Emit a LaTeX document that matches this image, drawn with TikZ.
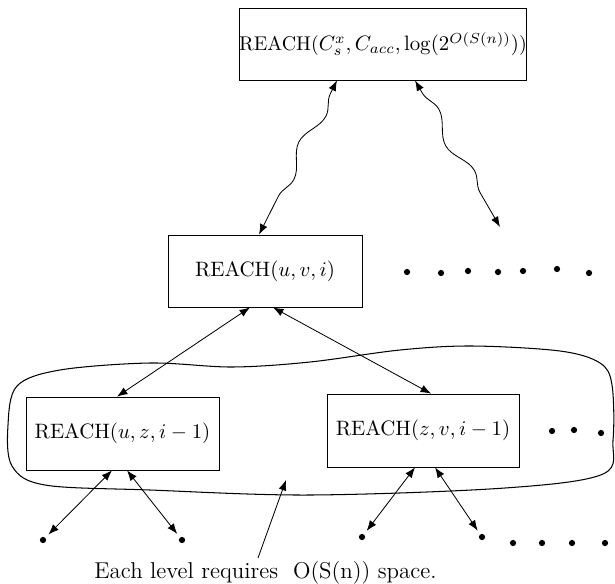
\documentclass[tikz,border=0pt]{standalone}
\usetikzlibrary{arrows.meta,decorations.pathmorphing,calc}
\begin{document}
\begin{tikzpicture}[x=0.48pt,y=-0.48pt,
  box/.style={draw, rectangle, inner sep=0pt},
  dot/.style={circle, fill, inner sep=0pt, minimum size=3pt, outer sep=2.2pt},
  sdot/.style={circle, fill, inner sep=0pt, minimum size=3pt},
  arr/.style={{Latex[length=5pt,width=3.8pt]}-{Latex[length=5pt,width=3.8pt]}},
  onearr/.style={-{Latex[length=5pt,width=3.8pt]}},
  wavy/.style={decorate, decoration={snake, segment length=34pt, amplitude=3pt, pre length=7pt, post length=7pt}},
  blob/.style={draw, line width=0.5pt}
]
\useasboundingbox (0,0) rectangle (615,583);

% boxes
\node[box, minimum width=134.4pt, minimum height=34.6pt, font=\fontsize{9.55}{12}\selectfont] (top) at (383,44)
  {REACH($C_s^x, C_{acc}, \log(2^{O(S(n))})$)};
\node[box, minimum width=93.1pt, minimum height=34.6pt] (mid) at (265,271)
  {REACH($u,v,i$)};
\node[box, minimum width=92.6pt, minimum height=35pt] (bl) at (122.5,433.5)
  {REACH($u,z,i-1$)};
\node[box, minimum width=92.2pt, minimum height=35pt] (br) at (423,430.5)
  {REACH($z,v,i-1$)};

% enclosing blob
\draw[blob] plot[smooth cycle, tension=0.55] coordinates {
  (8,425) (17,386) (60,370) (150,363) (232,367) (310,362) (400,350) (472,346)
  (560,351) (600,363) (612,385) (613,440) (603,474) (505,488) (310,495)
  (150,490) (45,485) (12,466)};

% wavy arrows from the top box
\coordinate (wend) at (500,227);
\draw[arr, wavy] ($(top.south)+(-46,0)$) -- ($(mid.north)+(-6,0)$);
\draw[arr, wavy] ($(top.south)+(32,0)$) -- (wend);

% dots right of middle box
\foreach \px/\py [count=\i] in {407/272,441/273,468/271,498/272,523/271,557/269,589/273}
  \node[sdot] (m\i) at (\px,\py) {};

% arrows from middle box to second level
\draw[arr] ($(mid.south)+(-15,0)$) -- ($(bl.north)+(-5.5,0)$);
\draw[arr] ($(mid.south)+(8,0)$) -- ($(br.north)+(8,0)$);

% dots right of bottom-right box
\foreach \px/\py [count=\i] in {552/431,574/430,601/433}
  \node[sdot] (r\i) at (\px,\py) {};

% leaves
\node[dot] (l1) at (43,540) {};
\node[dot] (l2) at (182,540) {};
\node[dot] (l3) at (362,537) {};
\node[dot] (l4) at (482,537) {};
\foreach \px/\py [count=\i] in {513/543,542/543,572/543,605/543}
  \node[sdot] (b\i) at (\px,\py) {};

\draw[arr] ($(bl.south)+(-10.5,0)$) -- (l1);
\draw[arr] ($(bl.south)+(4.5,0)$) -- (l2);
\draw[arr] ($(br.south)+(-8,0)$) -- (l3);
\draw[arr] ($(br.south)+(12,0)$) -- (l4);

% annotation
\node[anchor=base west, inner sep=0pt, font=\fontsize{11}{14}\selectfont] (note) at (94,578)
  {Each level requires~ O(S(n)) space.};
\coordinate (astart) at (258,558);
\coordinate (aend) at (286,480);
\draw[onearr] (astart) -- (aend);
\end{tikzpicture}
\end{document}
